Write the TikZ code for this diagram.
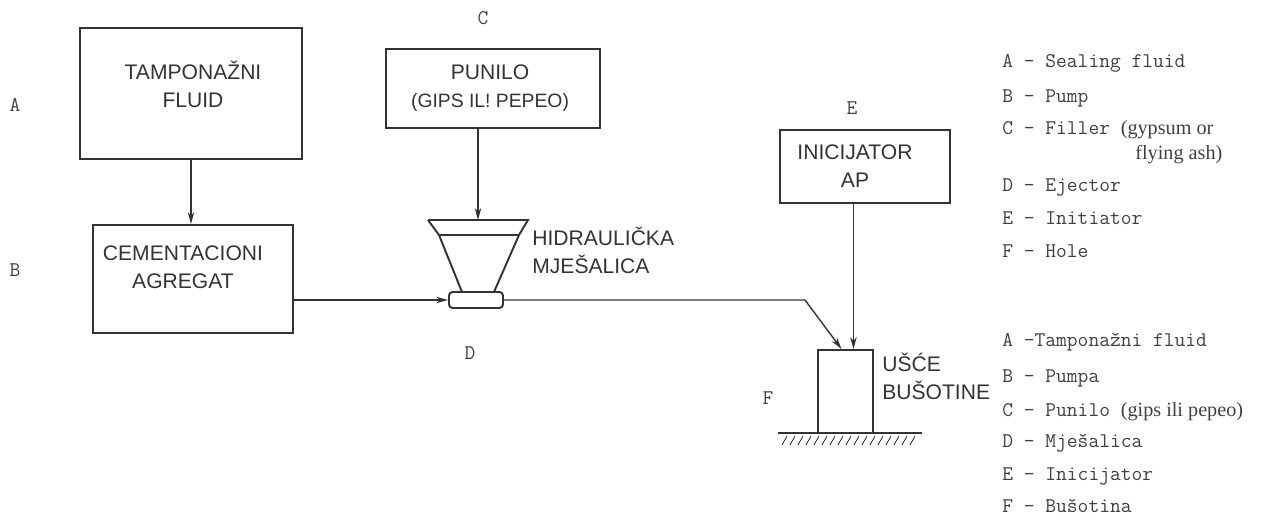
\documentclass[tikz,border=0pt]{standalone}
\usepackage{fontspec}
\setmainfont{Liberation Sans}
\newfontfamily\squeezefont{Liberation Serif}
\usetikzlibrary{positioning,arrows.meta,calc}
\newcommand{\tightmono}[1]{{\squeezefont\fontsize{11.5}{13}\selectfont #1}}

\begin{document}
\begin{tikzpicture}[
        x=0.02cm, y=-0.02cm,
        ink/.style={draw=black!80},
        unit/.style={
            draw=black!80,
            line width=1.1pt,
            rectangle,
            inner sep=0pt
        },
        boxtext/.style={
            align=center,
            text=black!80,
            inner sep=0pt,
            font=\fontsize{12}{16}\selectfont
        },
        letter/.style={
            text=black!75,
            inner sep=0pt,
            font=\ttfamily\fontsize{11.9}{13}\selectfont
        },
        legend/.style={
            text=black!75,
            inner sep=0pt,
            anchor=base west,
            font=\ttfamily\fontsize{11.9}{13}\selectfont
        },
        >={Stealth[length=2.4mm,width=1.3mm]},
        arrow/.style={->, line width=0.8pt, draw=black!80}
    ]
        \useasboundingbox (0,0) rectangle (1273,519);

        % units
        \node[unit, minimum width=4.44cm, minimum height=2.62cm] (tamp) at (191,93.5) {};
        \node[boxtext] (tamptext) at (193,84) {TAMPONAŽNI\\FLUID};

        \node[unit, minimum width=4cm, minimum height=2.16cm] (agg) at (193,279) {};
        \node[boxtext] (aggtext) at (183,267) {CEMENTACIONI\\AGREGAT};

        \node[unit, minimum width=4.28cm, minimum height=1.58cm] (fill) at (493,88.5) {};
        \node[boxtext] (filltext) at (490,88.5) {PUNILO\\{\fontsize{11}{14}\selectfont (GIPS IL! PEPEO)}};

        \node[unit, minimum width=3.4cm, minimum height=1.46cm] (init) at (865,166.5) {};
        \node[boxtext] (inittext) at (855,166.5) {INICIJATOR\\AP};

        \node[unit, minimum width=1.1cm, minimum height=1.66cm] (well) at (845.5,391.5) {};
        \node[boxtext, anchor=west, align=left] (welltext) at (882,376.5) {UŠĆE\\BUŠOTINE};

        % mixer
        \coordinate (hopper) at (478,220);
        \draw[ink, line width=1.1pt] (428,220) -- (528,220) -- (519,235) -- (494,292);
        \draw[ink, line width=1.1pt] (428,220) -- (439,235) -- (462,292);
        \draw[ink, line width=1.1pt] (439,235) -- (519,235);
        \node[unit, rounded corners=2pt, minimum width=1.08cm, minimum height=0.32cm] (eject) at (476,300) {};
        \node[boxtext, anchor=west, align=left] (mixtext) at (532,250) {HIDRAULIČKA\\MJEŠALICA};

        % ground under the hole
        \draw[ink, line width=0.9pt] (778,433) -- (922,433);
        \foreach \x in {782,790,...,914}
            \draw[ink, line width=0.5pt] (\x,445) -- (\x+5,436);

        % letters
        \node[letter] (la) at (15,105) {A};
        \node[letter] (lb) at (15,270) {B};
        \node[letter] (lc) at (483,18) {C};
        \node[letter] (ld) at (470,353) {D};
        \node[letter] (le) at (852,108) {E};
        \node[letter] (lf) at (768,398) {F};

        % flow
        \coordinate (bend) at (805,300);
        \coordinate (wellin) at ($(well.north west)!0.43!(well.north east)$);
        \coordinate (wellinit) at ($(well.north west)!0.64!(well.north east)$);
        \draw[arrow] (tamp.south |- tamp.south) -- (tamp.south |- agg.north);
        \draw[arrow] (fill.south -| hopper) -- (hopper);
        \draw[arrow] (agg.east |- eject.west) -- (eject.west);
        \draw[arrow] (eject.east) -- (bend) -- (wellin);
        \draw[arrow] (init.south -| wellinit) -- (wellinit);

        % legend (english)
        \node[legend] (ea) at (1002,68) {A - Sealing fluid};
        \node[legend] (eb) at (1002,103) {B - Pump};
        \node[legend] (ec) at (1002,135) {C - Filler \tightmono{(gypsum or}};
        \node[legend] (ec2) at (1135,160) {\tightmono{flying ash)}};
        \node[legend] (ed) at (1002,192) {D - Ejector};
        \node[legend] (ee) at (1002,225) {E - Initiator};
        \node[legend] (ef) at (1002,258) {F - Hole};

        % legend (local)
        \node[legend] (ba) at (1002,347) {A -Tamponažni fluid};
        \node[legend] (bb) at (1002,383) {B - Pumpa};
        \node[legend] (bc) at (1002,417) {C - Punilo \tightmono{(gips ili pepeo)}};
        \node[legend] (bd) at (1002,448) {D - Mješalica};
        \node[legend] (be) at (1002,480) {E - Inicijator};
        \node[legend] (bf) at (1002,512) {F - Bušotina};

    \end{tikzpicture}
\end{document}
